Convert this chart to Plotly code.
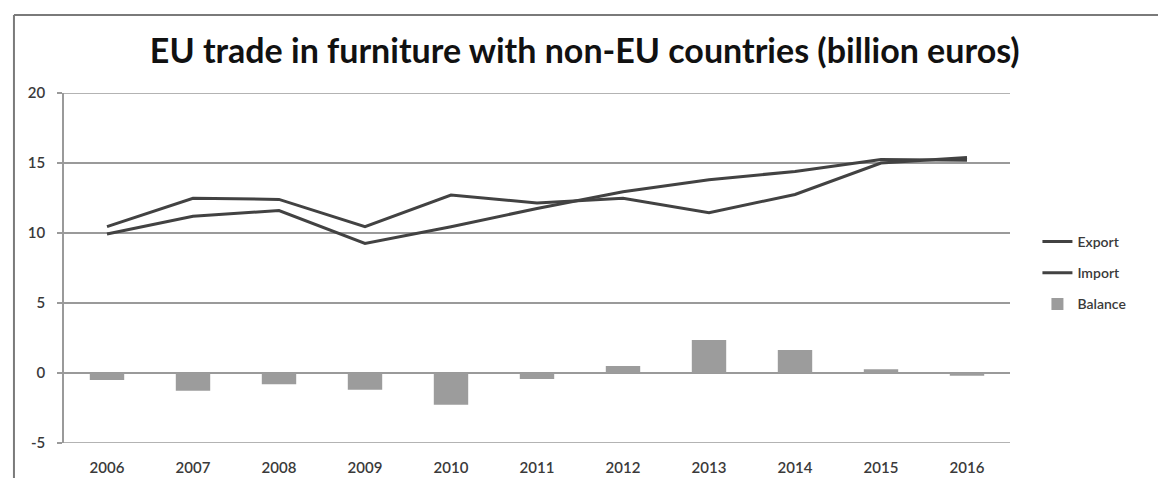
import plotly.graph_objects as go

# EU trade in furniture with non-EU countries, billion euros
years = ["2006", "2007", "2008", "2009", "2010", "2011",
         "2012", "2013", "2014", "2015", "2016"]
export_vals = [9.93, 11.2, 11.6, 9.26, 10.45, 11.75, 12.95, 13.8, 14.4, 15.25, 15.2]
import_vals = [10.45, 12.48, 12.4, 10.45, 12.71, 12.15, 12.48, 11.45, 12.75, 15.0, 15.4]
balance_vals = [-0.5, -1.27, -0.8, -1.19, -2.27, -0.42, 0.5, 2.36, 1.65, 0.27, -0.2]
y_ticks = [-5, 0, 5, 10, 15, 20]
y_tick_text = ["-5", "0", "5", "10", "15", "20"]

LINE_COLOR = "#424242"
BAR_COLOR = "#9c9c9c"
GRID_COLOR = "#9a9a9a"
TEXT_COLOR = "#3a3a3a"
FONT = "Lato"

fig = go.Figure()
fig.add_trace(go.Bar(
    x=years, y=balance_vals, name="Balance",
    marker=dict(color=BAR_COLOR, line=dict(width=0)),
    legendgroup="c", legendrank=3,
))
fig.add_trace(go.Scatter(
    x=years, y=export_vals, name="Export", mode="lines",
    line=dict(color=LINE_COLOR, width=3),
    legendgroup="a", legendrank=1,
))
fig.add_trace(go.Scatter(
    x=years, y=import_vals, name="Import", mode="lines",
    line=dict(color=LINE_COLOR, width=3),
    legendgroup="b", legendrank=2,
))

fig.update_layout(
    width=1158, height=478,
    margin=dict(l=64, r=148, t=93, b=35),
    paper_bgcolor="white", plot_bgcolor="white",
    font=dict(family=FONT, size=15, color=TEXT_COLOR),
    title=dict(
        text="<b>EU trade in furniture with non-EU countries (billion euros)</b>",
        x=0.505, xanchor="center", y=0.893, yanchor="middle",
        font=dict(family=FONT, size=34, color="#111111"),
    ),
    bargap=0.6,
    showlegend=True,
    legend=dict(
        x=1.029, xanchor="left", y=0.62, yanchor="top",
        font=dict(family=FONT, size=14, color=TEXT_COLOR, weight=600),
        tracegroupgap=10,
        bgcolor="rgba(0,0,0,0)",
    ),
    xaxis=dict(
        type="category", showgrid=False, ticks="",
        showline=False, zeroline=False, automargin=False,
        ticklabelstandoff=14,
        tickfont=dict(family=FONT, size=15, color=TEXT_COLOR, weight=600),
    ),
    yaxis=dict(
        range=[-5, 20], tickvals=y_ticks, ticktext=y_tick_text,
        automargin=False,
        showgrid=True, gridcolor=GRID_COLOR, gridwidth=1.5,
        zeroline=True, zerolinecolor=GRID_COLOR, zerolinewidth=1.5,
        showline=True, linecolor=GRID_COLOR, linewidth=1.5,
        ticks="outside", ticklen=5, tickcolor=GRID_COLOR, tickwidth=1.5,
        ticklabelstandoff=9,
        tickfont=dict(family=FONT, size=15, color=TEXT_COLOR, weight=600),
    ),
    shapes=[
        # outer frame along the top and left edges
        dict(type="line", xref="paper", yref="paper",
             x0=-0.0529, x1=1.2, y0=1.223, y1=1.223,
             line=dict(color="#7a7a7a", width=2)),
        dict(type="line", xref="paper", yref="paper",
             x0=-0.0529, x1=-0.0529, y0=1.223, y1=-0.2,
             line=dict(color="#7a7a7a", width=2)),
        # boundary gridlines at -5 and 20
        dict(type="line", xref="paper", yref="y",
             x0=0, x1=1, y0=-5, y1=-5,
             line=dict(color=GRID_COLOR, width=1.5)),
        dict(type="line", xref="paper", yref="y",
             x0=0, x1=1, y0=20, y1=20,
             line=dict(color=GRID_COLOR, width=1.5)),
    ],
)

fig.write_html("out.html")
